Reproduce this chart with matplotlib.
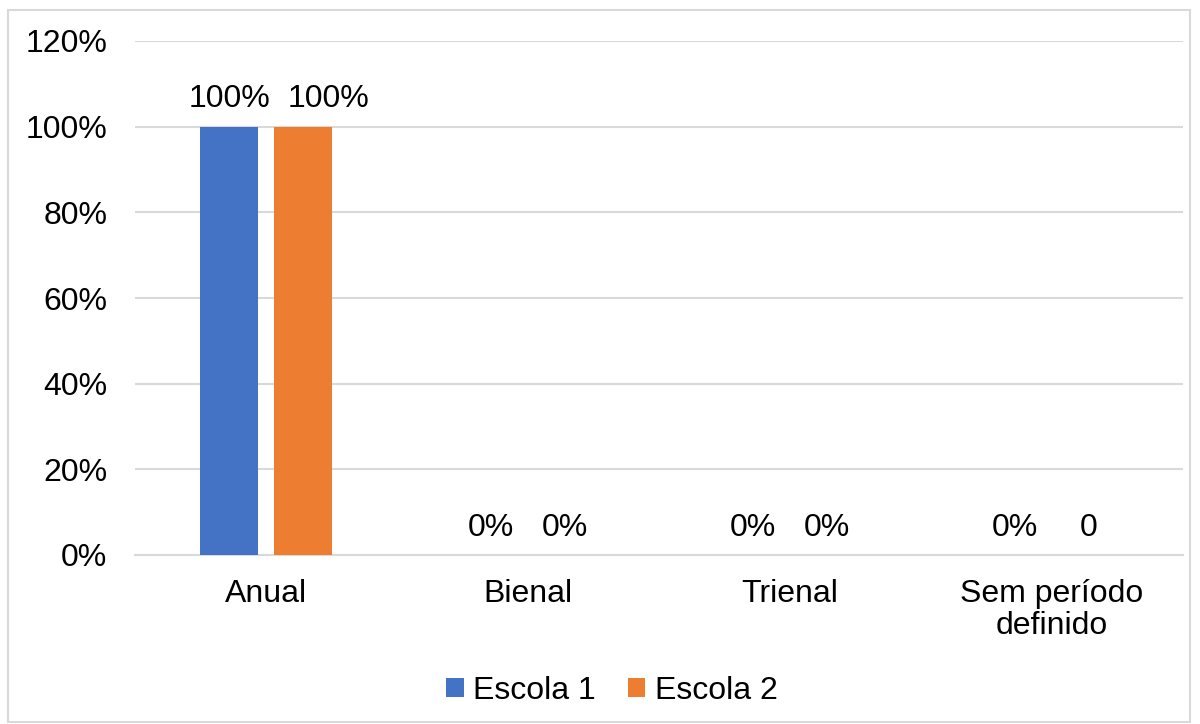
import matplotlib
matplotlib.use("Agg")
import matplotlib.pyplot as plt
from matplotlib.patches import Rectangle
import numpy as np

categories = ["Anual", "Bienal", "Trienal", "Sem período\ndefinido"]
escola1 = [1.0, 0.0, 0.0, 0.0]
escola2 = [1.0, 0.0, 0.0, 0.0]
labels1 = ["100%", "0%", "0%", "0%"]
labels2 = ["100%", "0%", "0%", "0"]
series_names = ["Escola 1", "Escola 2"]
colors = ["#4472C4", "#ED7D31"]
yticks = [0, 0.2, 0.4, 0.6, 0.8, 1.0, 1.2]
ytick_labels = ["0%", "20%", "40%", "60%", "80%", "100%", "120%"]

plt.rcParams['font.family'] = ['Liberation Sans', 'DejaVu Sans']
FS = 23

fig = plt.figure(figsize=(12, 7.24), dpi=100)
W, H = 1200, 724
# plot area in pixels
left, right, top, bottom = 135, 1183, 41, 555
ax = fig.add_axes([left / W, 1 - bottom / H, (right - left) / W, (bottom - top) / H])

x = np.arange(len(categories))
bw = 0.221
off = 0.141
b1 = ax.bar(x - off, escola1, bw, color=colors[0], label=series_names[0], zorder=3)
b2 = ax.bar(x + off, escola2, bw, color=colors[1], label=series_names[1], zorder=3)

texts1, texts2 = [], []
for rects, labs, store in ((b1, labels1, texts1), (b2, labels2, texts2)):
    for r, lab in zip(rects, labs):
        t = ax.annotate(lab, (r.get_x() + r.get_width() / 2, r.get_height()),
                        xytext=(0, 9), textcoords="offset points",
                        ha="center", va="bottom", fontsize=FS, color="#000000")
        store.append(t)

ax.set_xlim(-0.5, len(categories) - 0.5)
ax.set_ylim(0, 1.2)
ax.set_yticks(yticks)
ax.set_yticklabels(ytick_labels, fontsize=FS)
ax.set_xticks(x)
ax.set_xticklabels(categories, fontsize=FS, linespacing=1.1)
ax.tick_params(axis="both", length=0, colors="#000000")
ax.tick_params(axis="y", pad=20)
ax.tick_params(axis="x", pad=17)
ax.grid(axis="y", color="#D9D9D9", linewidth=1.5, zorder=0)
for s in ("top", "right", "left"):
    ax.spines[s].set_visible(False)
ax.spines["bottom"].set_color("#D9D9D9")
ax.spines["bottom"].set_linewidth(1.5)

# avoid overlapping data labels (shift the second label to the right, like Excel)
fig.canvas.draw()
renderer = fig.canvas.get_renderer()
gap_px = 18
for t1, t2 in zip(texts1, texts2):
    e1 = t1.get_window_extent(renderer)
    e2 = t2.get_window_extent(renderer)
    if e2.x0 < e1.x1 + gap_px:
        shift = (e1.x1 + gap_px - e2.x0) * 72 / fig.dpi
        t2.xyann = (shift, t2.xyann[1])

leg = fig.legend(handles=[b1, b2], labels=series_names, loc="center",
                 bbox_to_anchor=(612 / W, 1 - 691 / H), ncol=2, frameon=False,
                 fontsize=FS, handlelength=0.55, handleheight=0.55,
                 handletextpad=0.3, columnspacing=1.0)

fig.patches.append(Rectangle((8 / W, 1 - 722 / H), (1190 - 8) / W, (722 - 10) / H,
                             transform=fig.transFigure, fill=False,
                             edgecolor="#D9D9D9", linewidth=1.5))

fig.savefig("out.png", dpi=100, facecolor="white")
